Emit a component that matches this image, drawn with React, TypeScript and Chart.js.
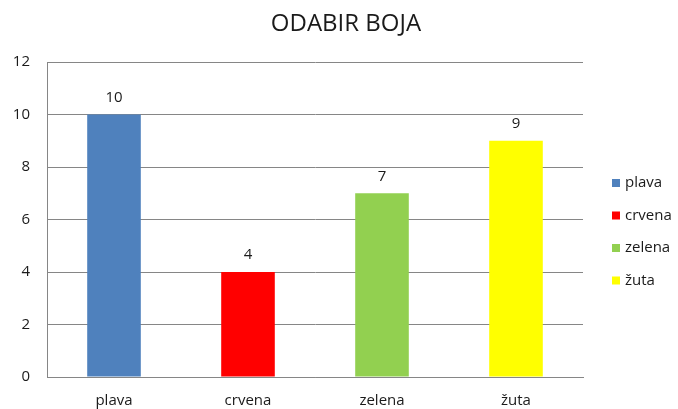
import React, { useEffect, useRef } from "react";
import { Chart, registerables } from "chart.js";

Chart.register(...registerables);

const categories = ["plava", "crvena", "zelena", "žuta"];
const values = [10, 4, 7, 9];
const colors = ["#4F81BD", "#FF0000", "#92D050", "#FFFF00"];
const yTicks = [0, 2, 4, 6, 8, 10, 12];
const titleText = "ODABIR BOJA";

const FONT = "'Open Sans', 'Liberation Sans', sans-serif";
const TEXT = "#1a1a1a";

export default function App() {
  const ref = useRef<HTMLCanvasElement | null>(null);
  useEffect(() => {
    document.body.style.margin = "0";
    const canvas = ref.current;
    if (!canvas) return;

    const overlay = {
      id: "overlay",
      afterDatasetsDraw(chart: any) {
        const ctx = chart.ctx;
        const meta = chart.getDatasetMeta(0);
        ctx.save();
        ctx.fillStyle = TEXT;
        ctx.font = `15px ${FONT}`;
        ctx.textAlign = "center";
        ctx.textBaseline = "middle";
        meta.data.forEach((el: any, i: number) => {
          ctx.fillText(String(values[i]), el.x, el.y - 17);
        });
        // title
        ctx.font = `24px ${FONT}`;
        ctx.fillText(titleText, 346, 24);
        // legend
        ctx.font = `15px ${FONT}`;
        ctx.textAlign = "left";
        const x0 = 612;
        const yStart = 183;
        const step = 32.5;
        categories.forEach((c, i) => {
          const y = yStart + i * step;
          ctx.fillStyle = colors[i];
          ctx.fillRect(x0, y - 4, 8, 8);
          ctx.fillStyle = TEXT;
          ctx.fillText(c, x0 + 13, y);
        });
        ctx.restore();
      },
    };

    const chart = new Chart(canvas, {
      type: "bar",
      data: {
        labels: categories,
        datasets: [
          {
            data: values,
            backgroundColor: colors,
            borderWidth: 0,
            categoryPercentage: 1,
            barPercentage: 0.4,
          },
        ],
      },
      options: {
        responsive: false,
        animation: false,
        layout: { padding: { top: 62, right: 95, left: 0, bottom: 0 } },
        plugins: {
          legend: { display: false },
          title: { display: false },
          tooltip: { enabled: false },
        },
        scales: {
          x: {
            grid: { display: false, drawTicks: false },
            border: { display: true, color: "#868686", width: 1 },
            ticks: { color: TEXT, font: { family: FONT, size: 15 }, padding: 15 },
            afterFit(scale: any) {
              scale.height = 32;
            },
          },
          y: {
            min: 0,
            max: 12,
            afterBuildTicks(scale: any) {
              scale.ticks = yTicks.map((v) => ({ value: v }));
            },
            grid: { color: "#868686", drawTicks: false },
            border: { display: true, color: "#868686", width: 1 },
            ticks: { color: TEXT, font: { family: FONT, size: 15 }, padding: 17 },
            afterFit(scale: any) {
              scale.width = 47;
            },
          },
        },
      },
      plugins: [overlay],
    });
    return () => chart.destroy();
  }, []);
  return <canvas ref={ref} width={678} height={409} style={{ display: "block" }} />;
}
